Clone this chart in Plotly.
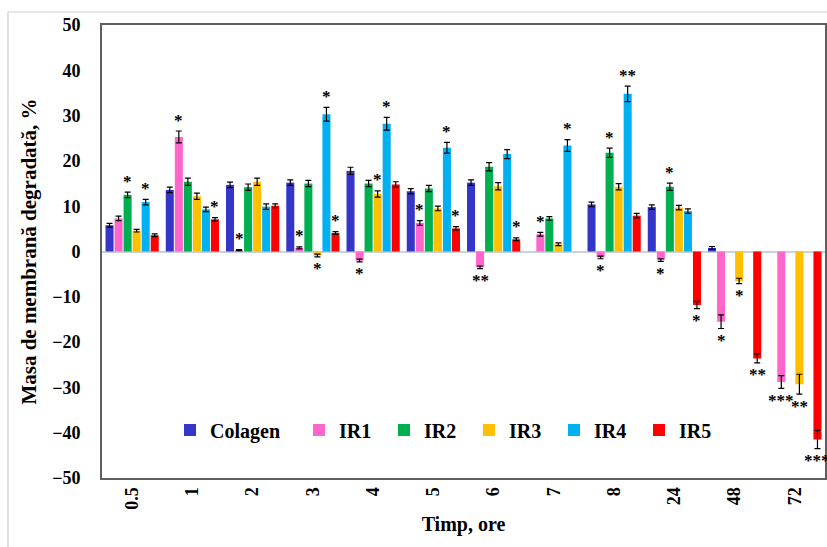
import plotly.graph_objects as go

categories = ["0.5", "1", "2", "3", "4", "5", "6", "7", "8", "24", "48", "72"]
series_names = ["Colagen", "IR1", "IR2", "IR3", "IR4", "IR5"]

colagen = [5.8, 13.6, 14.7, 15.2, 17.8, 13.3, 15.2, None, 10.4, 9.8, 0.8, None]
ir1 = [7.3, 25.3, 0.3, 0.8, -2.0, 6.3, -3.5, 3.8, -1.3, -1.9, -15.5, -28.8]
ir2 = [12.5, 15.4, 14.2, 15.0, 15.0, 13.9, 18.7, 7.3, 21.8, 14.3, None, None]
ir3 = [4.6, 12.2, 15.4, -0.9, 12.7, 9.5, 14.4, 1.6, 14.3, 9.7, -6.5, -29.3]
ir4 = [10.9, 9.3, 9.9, 30.3, 28.2, 22.9, 21.5, 23.4, 34.8, 8.9, None, None]
ir5 = [3.6, 7.1, 10.1, 4.1, 14.8, 5.1, 2.7, None, 7.9, -11.8, -23.6, -41.5]

err_colagen = [0.4, 0.6, 0.6, 0.6, 0.8, 0.6, 0.6, None, 0.5, 0.5, 0.3, None]
err_ir1 = [0.5, 1.3, 0.1, 0.2, 0.3, 0.5, 0.3, 0.4, 0.3, 0.3, 1.5, 1.4]
err_ir2 = [0.6, 0.8, 0.7, 0.7, 0.7, 0.7, 0.9, 0.4, 1.0, 0.8, None, None]
err_ir3 = [0.3, 0.7, 0.8, 0.3, 0.7, 0.5, 0.8, 0.3, 0.7, 0.5, 0.6, 2.2]
err_ir4 = [0.6, 0.5, 0.6, 1.5, 1.4, 1.2, 1.0, 1.3, 1.7, 0.5, None, None]
err_ir5 = [0.3, 0.4, 0.4, 0.3, 0.6, 0.4, 0.3, None, 0.5, 0.8, 1.0, 2.0]

sig_colagen = [""] * 12
sig_ir1 = ["", "*", "*", "*", "*", "*", "**", "*", "*", "*", "*", "***"]
sig_ir2 = ["*", "", "", "", "", "", "", "", "*", "*", "", ""]
sig_ir3 = ["", "", "", "*", "*", "", "", "", "", "", "*", "**"]
sig_ir4 = ["*", "", "", "*", "*", "*", "", "*", "**", "", "", ""]
sig_ir5 = ["", "*", "", "*", "", "*", "*", "", "", "*", "**", "***"]

colors = ["#3535C8", "#FF66CC", "#00B050", "#FFC000", "#00B0F0", "#FF0000"]

values = [colagen, ir1, ir2, ir3, ir4, ir5]
errors = [err_colagen, err_ir1, err_ir2, err_ir3, err_ir4, err_ir5]
sigs = [sig_colagen, sig_ir1, sig_ir2, sig_ir3, sig_ir4, sig_ir5]

W, H = 827, 547
ML, MR, MT, MB = 102, 2, 25, 69
BARGAP, BARGROUPGAP = 0.1, 0.11
plot_w = W - ML - MR
plot_h = H - MT - MB

SERIF = "Liberation Serif"

fig = go.Figure()
for i, name in enumerate(series_names):
    fig.add_trace(go.Bar(
        x=categories, y=values[i], name=name, showlegend=True,
        marker=dict(color=colors[i], line=dict(width=0)),
        error_y=dict(type="data", array=errors[i], visible=True,
                     color="black", thickness=1.2, width=3),
        legend="legend" if i == 0 else "legend2",
        legendwidth=80 if i == 0 else 40,
    ))

# significance markers (positioned by category index on the category axis)
cat_w = plot_w / len(categories)
slot = cat_w * (1 - BARGAP) / len(series_names)
annotations = []
for i in range(len(series_names)):
    xs = (i - (len(series_names) - 1) / 2) * slot
    for j, c in enumerate(categories):
        s = sigs[i][j]
        v = values[i][j]
        if not s or v is None:
            continue
        e = errors[i][j] or 0
        if v >= 0:
            yv, ysh = v + e, 11
        else:
            yv, ysh = v - e, -12
        annotations.append(dict(
            x=j, y=yv, xref="x", yref="y", text=s, showarrow=False,
            xshift=xs, yshift=ysh, yanchor="middle", xanchor="center",
            font=dict(family=SERIF, size=17, color="black", weight="bold"),
        ))

leg_y = (478 - 430) / plot_h
leg_font = dict(family=SERIF, size=20, weight="bold", color="black")
fig.update_layout(
    width=W, height=H,
    margin=dict(l=ML, r=MR, t=MT, b=MB, autoexpand=False),
    paper_bgcolor="white", plot_bgcolor="white",
    showlegend=True,
    barmode="group", bargap=BARGAP, bargroupgap=BARGROUPGAP,
    annotations=annotations,
    font=dict(family=SERIF, color="black"),
    legend=dict(orientation="h", x=(170 - ML) / plot_w, xanchor="left",
                y=leg_y, yanchor="middle", visible=True,
                bgcolor="rgba(0,0,0,0)", borderwidth=0,
                font=leg_font, itemwidth=30, traceorder="normal"),
    legend2=dict(orientation="h", x=(299 - ML) / plot_w, xanchor="left",
                 y=leg_y, yanchor="middle", visible=True,
                 bgcolor="rgba(0,0,0,0)", borderwidth=0,
                 font=leg_font, itemwidth=30, traceorder="normal"),
    xaxis=dict(type="category", categoryorder="array", categoryarray=categories,
               range=[-0.5, len(categories) - 0.5],
               tickangle=-90, showgrid=False, showline=True, mirror=True,
               linecolor="#5f5f5f", linewidth=2, ticks="",
               tickfont=dict(family=SERIF, size=18, weight="bold", color="black"),
               title=dict(text="Timp, ore", standoff=8,
                          font=dict(family=SERIF, size=20, weight="bold", color="black"))),
    yaxis=dict(range=[-50, 50], dtick=10, showgrid=False, showline=True, mirror=True,
               linecolor="#5f5f5f", linewidth=2, ticks="",
               zeroline=True, zerolinecolor="#C8D2E2", zerolinewidth=1.5,
               ticklabelstandoff=16,
               tickfont=dict(family=SERIF, size=18, weight="bold", color="black"),
               title=dict(text="Masa de membrană degradată, %", standoff=10,
                          font=dict(family=SERIF, size=21, weight="bold", color="black"))),
    shapes=[dict(type="rect", xref="paper", yref="paper",
                 x0=(8 - ML) / plot_w, x1=1.2, y0=-0.3,
                 y1=1 + (MT - 12) / plot_h,
                 line=dict(color="#D0D0D0", width=1.2), fillcolor="rgba(0,0,0,0)",
                 layer="below")],
)

fig.write_html(
    "out.html",
    config={"displayModeBar": False},
    post_script=("document.body.style.margin='0';"
                 "document.body.style.overflow='hidden';"
                 "document.documentElement.style.overflow='hidden';"),
)
